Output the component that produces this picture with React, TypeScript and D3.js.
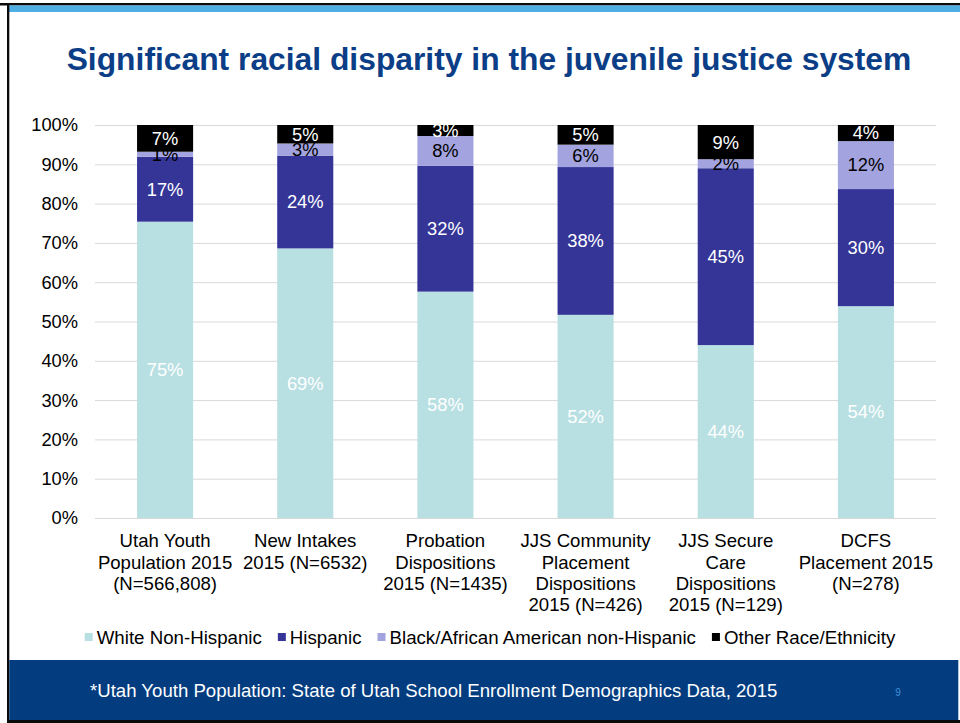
import React, { useEffect, useRef } from "react";
import * as d3 from "d3";

const categories = [
  ["Utah Youth", "Population 2015", "(N=566,808)"],
  ["New Intakes", "2015 (N=6532)"],
  ["Probation", "Dispositions", "2015 (N=1435)"],
  ["JJS Community", "Placement", "Dispositions", "2015 (N=426)"],
  ["JJS Secure", "Care", "Dispositions", "2015 (N=129)"],
  ["DCFS", "Placement 2015", "(N=278)"],
];
const seriesNames = [
  "White Non-Hispanic",
  "Hispanic",
  "Black/African American non-Hispanic",
  "Other Race/Ethnicity",
];
const whiteNonHispanic = [75.4, 68.6, 57.6, 51.7, 44.0, 53.9];
const hispanic = [16.5, 23.6, 32.0, 37.6, 45.0, 29.8];
const blackAA = [1.3, 3.1, 7.6, 5.7, 2.3, 12.2];
const otherRace = [6.8, 4.7, 2.8, 5.0, 8.7, 4.1];
const yTicks = [0, 10, 20, 30, 40, 50, 60, 70, 80, 90, 100];

const colors = ["#B8E0E2", "#353598", "#A3A3DF", "#000000"];
const labelColors = ["#ffffff", "#ffffff", "#000000", "#ffffff"];
const FONT = "'Liberation Sans', Arial, Helvetica, sans-serif";

export default function App() {
  const ref = useRef<SVGSVGElement>(null);
  useEffect(() => {
    const svg = d3.select(ref.current);
    svg.selectAll("*").remove();
    const W = 960, H = 723;

    // frame
    svg.append("rect").attr("x", 0).attr("y", 0).attr("width", W).attr("height", H).attr("fill", "#fff");
    svg.append("rect").attr("x", 0).attr("y", 3).attr("width", W).attr("height", 2.5).attr("fill", "#0a0a0a");
    svg.append("rect").attr("x", 7).attr("y", 5.5).attr("width", W - 7).attr("height", 6.5).attr("fill", "#4FAEE3");
    svg.append("rect").attr("x", 7).attr("y", 3).attr("width", 2.3).attr("height", H - 3).attr("fill", "#0a0a0a");
    svg.append("rect").attr("x", 9.3).attr("y", 660).attr("width", 949).attr("height", 60).attr("fill", "#033D7F");
    svg.append("rect").attr("x", 7).attr("y", 720).attr("width", W - 7).attr("height", 3).attr("fill", "#0a0a0a");

    // title
    svg.append("text")
      .attr("x", 489).attr("y", 69.5)
      .attr("text-anchor", "middle")
      .attr("font-family", FONT).attr("font-weight", "bold").attr("font-size", 31.8)
      .attr("fill", "#0B3E86")
      .text("Significant racial disparity in the juvenile justice system");

    // scales
    const x = d3.scaleBand<number>().domain(d3.range(categories.length)).range([95, 936]).paddingInner(0.6).paddingOuter(0.3);
    const y = d3.scaleLinear().domain([0, 100]).range([518, 125]);

    // grid
    svg.append("g").selectAll("line").data(yTicks).join("line")
      .attr("x1", 95).attr("x2", 936)
      .attr("y1", (d) => y(d) + 0.5).attr("y2", (d) => y(d) + 0.5)
      .attr("stroke", "#D9D9D9").attr("stroke-width", 1);
    svg.append("g").selectAll("text").data(yTicks).join("text")
      .attr("x", 78).attr("y", (d) => y(d))
      .attr("dy", "0.35em").attr("text-anchor", "end")
      .attr("font-family", FONT).attr("font-size", 18.3).attr("fill", "#000")
      .text((d) => d + "%");

    const series = [whiteNonHispanic, hispanic, blackAA, otherRace];
    const rows = categories.map((_, i) => ({ i, s0: series[0][i], s1: series[1][i], s2: series[2][i], s3: series[3][i] }));
    const stacked = d3.stack<any>().keys(["s0", "s1", "s2", "s3"])(rows);

    stacked.forEach((layer, k) => {
      const g = svg.append("g");
      g.selectAll("rect").data(layer).join("rect")
        .attr("x", (d: any) => x(d.data.i)!)
        .attr("width", x.bandwidth())
        .attr("y", (d: any) => y(Math.min(d[1], 100)))
        .attr("height", (d: any) => y(d[0]) - y(Math.min(d[1], 100)))
        .attr("fill", colors[k]);
    });
    stacked.forEach((layer, k) => {
      const g = svg.append("g");
      g.selectAll("text").data(layer).join("text")
        .attr("x", (d: any) => x(d.data.i)! + x.bandwidth() / 2)
        .attr("y", (d: any) => (y(d[0]) + y(Math.min(d[1], 100))) / 2)
        .attr("dy", "0.35em").attr("text-anchor", "middle")
        .attr("font-family", FONT).attr("font-size", 18.3).attr("fill", labelColors[k])
        .text((d: any) => Math.round(d[1] - d[0]) + "%");
    });

    // category labels
    const cg = svg.append("g");
    categories.forEach((lines, i) => {
      const t = cg.append("text")
        .attr("x", x(i)! + x.bandwidth() / 2).attr("y", 540.7)
        .attr("text-anchor", "middle")
        .attr("font-family", FONT).attr("font-size", 18.6).attr("fill", "#000");
      lines.forEach((ln, j) => {
        t.append("tspan").attr("x", x(i)! + x.bandwidth() / 2).attr("y", 540.7 + j * 21.4).attr("dy", "0.35em").text(ln);
      });
    });

    // legend
    const lg = svg.append("g");
    let cx = 0;
    const gap = 16;
    seriesNames.forEach((name, k) => {
      const item = lg.append("g").attr("transform", `translate(${cx},0)`);
      item.append("rect").attr("x", 0).attr("y", -4).attr("width", 8).attr("height", 8).attr("fill", colors[k]);
      const t = item.append("text").attr("x", 12).attr("y", 0).attr("dy", "0.35em")
        .attr("font-family", FONT).attr("font-size", 18.7).attr("fill", "#000").text(name);
      const w = (t.node() as SVGTextElement).getComputedTextLength();
      cx += 12 + w + gap;
    });
    const total = cx - gap;
    lg.attr("transform", `translate(${490 - total / 2},637)`);

    // footer
    svg.append("text").attr("x", 90).attr("y", 690).attr("dy", "0.35em")
      .attr("font-family", FONT).attr("font-size", 18.6).attr("fill", "#fff")
      .text("*Utah Youth Population: State of Utah School Enrollment Demographics Data, 2015");
    svg.append("text").attr("x", 898).attr("y", 692).attr("dy", "0.35em").attr("text-anchor", "middle")
      .attr("font-family", FONT).attr("font-size", 10).attr("fill", "#3F8FD8")
      .text("9");
  }, []);
  return <svg ref={ref} width={960} height={723} style={{ position: "absolute", left: 0, top: 0, display: "block" }} />;
}
